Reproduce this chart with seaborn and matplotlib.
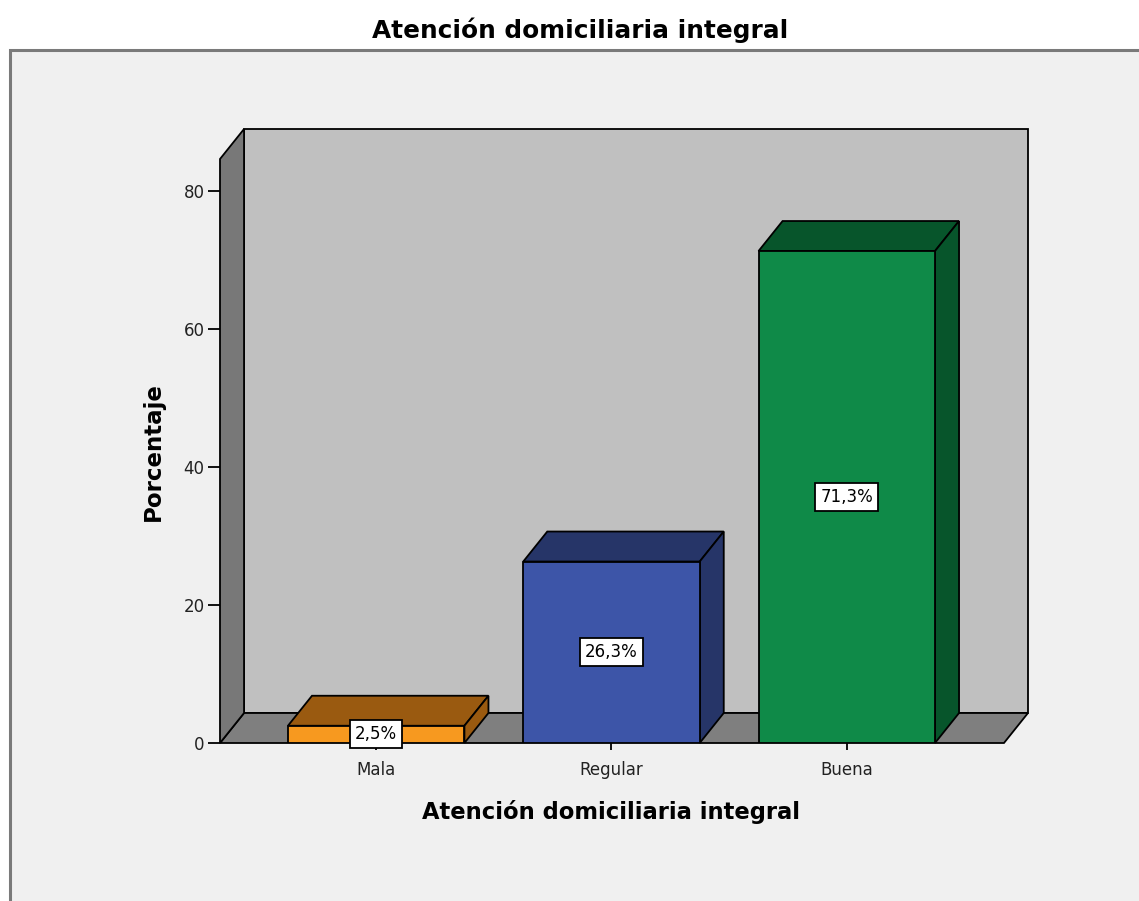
import matplotlib
matplotlib.use("Agg")
import matplotlib.pyplot as plt
from matplotlib.patches import Polygon, Rectangle
import seaborn as sns
import pandas as pd

# Data
categories = ["Mala", "Regular", "Buena"]
percentages = [2.5, 26.3, 71.3]
value_labels = ["2,5%", "26,3%", "71,3%"]
front_colors = ["#f7991f", "#3d55a8", "#0f8a48"]
shade_colors = ["#9a5a10", "#263568", "#07552b"]
y_ticks = [0, 20, 40, 60, 80]

title = "Atención domiciliaria integral"
x_label = "Atención domiciliaria integral"
y_label = "Porcentaje"

sns.set_style("white")
plt.rcParams["font.family"] = ["DejaVu Sans"]

W, H = 1139, 901
fig = plt.figure(figsize=(W / 100, H / 100), dpi=100)
fig.patch.set_facecolor("white")

# Outer chart frame (light panel)
frame = Rectangle((10 / W, -0.05), 1.2, (H - 50) / H + 0.05,
                  transform=fig.transFigure, facecolor="#f0f0f0",
                  edgecolor="#7a7a7a", linewidth=2.2, zorder=-10)
fig.patches.append(frame)

# Plot area: front floor edge at y=0, back wall top at the upper limit
ax = fig.add_axes([220 / W, (H - 743) / H, (1028 - 220) / W, (743 - 129) / H])
ax.set_zorder(5)
ax.set_facecolor("none")

px_per_x = 235.0
px_per_y = 6.9
dx = 24 / px_per_x          # depth offset along x (data units)
dy = 30 / px_per_y          # depth offset along y (data units)
x_left = -156 / px_per_x
x_front_right = x_left + 783 / px_per_x
x_right = x_front_right + dx
y_top = 614 / px_per_y

edge_kw = dict(edgecolor="black", linewidth=1.3, joinstyle="miter", clip_on=False)
# Back wall
ax.add_patch(Polygon([(x_left + dx, dy), (x_right, dy), (x_right, y_top),
                      (x_left + dx, y_top)], closed=True, facecolor="#c0c0c0",
                     zorder=1, **edge_kw))
# Floor
ax.add_patch(Polygon([(x_left, 0), (x_front_right, 0), (x_right, dy),
                      (x_left + dx, dy)], closed=True, facecolor="#7f7f7f",
                     zorder=1, **edge_kw))
# Left wall
ax.add_patch(Polygon([(x_left, 0), (x_left + dx, dy), (x_left + dx, y_top),
                      (x_left, y_top - dy)], closed=True, facecolor="#787878",
                     zorder=1, **edge_kw))

df = pd.DataFrame({"categoria": categories, "porcentaje": percentages})
sns.barplot(data=df, x="categoria", y="porcentaje", hue="categoria",
            palette=front_colors, width=0.75, legend=False, ax=ax,
            saturation=1, edgecolor="black", linewidth=1.3, zorder=3)
ax.set_xlim(x_left, x_right)
ax.set_ylim(0, y_top)

# Top and side faces for the 3D look
bars = [p for p in ax.patches if isinstance(p, Rectangle)]
for bar, shade in zip(bars, shade_colors):
    x0, w, h = bar.get_x(), bar.get_width(), bar.get_height()
    ax.add_patch(Polygon([(x0, h), (x0 + dx, h + dy), (x0 + w + dx, h + dy),
                          (x0 + w, h)], closed=True, facecolor=shade,
                         zorder=2.9, **edge_kw))
    ax.add_patch(Polygon([(x0 + w, 0), (x0 + w + dx, dy), (x0 + w + dx, h + dy),
                          (x0 + w, h)], closed=True, facecolor=shade,
                         zorder=2.9, **edge_kw))

# Value labels at mid-height of each bar
for i, (v, lab) in enumerate(zip(percentages, value_labels)):
    ax.text(i, v / 2, lab, ha="center", va="center", fontsize=12, zorder=5,
            color="black",
            bbox=dict(boxstyle="square,pad=0.3", facecolor="white",
                      edgecolor="black", linewidth=1.3))

for s in ax.spines.values():
    s.set_visible(False)
ax.set_yticks(y_ticks)
ax.set_yticklabels([str(t) for t in y_ticks])
ax.set_xticks(range(len(categories)))
ax.set_xticklabels(categories)
ax.tick_params(axis="y", length=9, width=1.3, color="black", pad=2,
               labelsize=12, labelcolor="#222222", left=True)
ax.tick_params(axis="x", length=5, width=1.3, color="black", pad=8,
               labelsize=12, labelcolor="#222222", bottom=True)

ax.set_xlabel(x_label, fontsize=16.3, fontweight="bold", color="black")
ax.xaxis.set_label_coords((611 - 220) / 808, -(812 - 743) / 614)
ax.set_ylabel(y_label, fontsize=16.5, fontweight="bold", color="black")
ax.yaxis.set_label_coords(-(220 - 153) / 808, (743 - 452) / 614)
ax.xaxis.label.set_va("center")
ax.yaxis.label.set_va("center")

fig.text(580 / W, 1 - 30 / H, title, ha="center", va="center",
         fontsize=17.8, fontweight="bold", color="black")

fig.savefig("out.png", dpi=100)
